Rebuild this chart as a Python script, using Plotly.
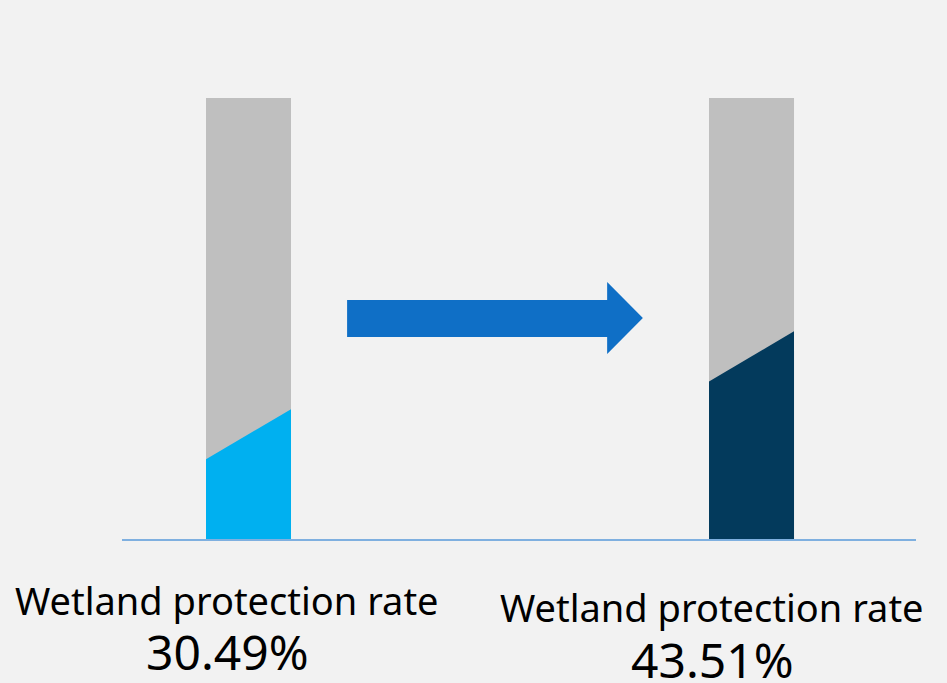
import plotly.graph_objects as go

# ---- data ----
categories = ["Earlier", "Later"]
rate_labels = ["30.49%", "43.51%"]
rates = [30.49, 43.51]
full_scale = [100, 100]
fill_right = [29.4, 47.1]   # drawn height of the coloured fill at right edge
fill_left = [18.1, 35.7]    # drawn height of the coloured fill at left edge
caption = ["Wetland protection rate", "Wetland protection rate"]

fill_colors = ["#00B0F0", "#033A5C"]
BG = "#F2F2F2"
BAR_W = 0.169

xs = list(range(len(categories)))

fig = go.Figure()

fig.add_trace(go.Bar(
    x=xs, y=full_scale, width=BAR_W, marker=dict(color="#BFBFBF", line=dict(width=0)),
    hoverinfo="skip", showlegend=False,
))

for i, (r, l) in enumerate(zip(fill_right, fill_left)):
    x0, x1 = xs[i] - BAR_W / 2, xs[i] + BAR_W / 2
    fig.add_trace(go.Scatter(
        x=[x0, x1, x1, x0, x0], y=[0, 0, r, l, 0],
        fill="toself", fillcolor=fill_colors[i], mode="lines",
        line=dict(width=0, color=fill_colors[i]),
        hoverinfo="skip", showlegend=False, name=categories[i],
    ))

# arrow between the bars
fig.add_shape(
    type="path",
    path="M 0.196,45.8 L 0.713,45.8 L 0.713,41.95 L 0.784,50.1 L 0.713,58.3 L 0.713,54.2 L 0.196,54.2 Z",
    xref="x", yref="y", fillcolor="#0F6FC6", line=dict(width=0), layer="above",
)

label_shift_x = [-21.5, -39.5]
cap_shift_y = [-61, -68]
num_shift_y = [-112, -120]
for i in xs:
    fig.add_annotation(
        x=xs[i], y=0, xref="x", yref="paper", text=caption[i], showarrow=False,
        xshift=label_shift_x[i], yshift=cap_shift_y[i], yanchor="middle", xanchor="center",
        font=dict(family="Noto Sans", size=38, color="#000000"),
    )
    fig.add_annotation(
        x=xs[i], y=0, xref="x", yref="paper", text=rate_labels[i], showarrow=False,
        xshift=label_shift_x[i], yshift=num_shift_y[i], yanchor="middle", xanchor="center",
        font=dict(family="Noto Sans", size=48, color="#000000"),
    )

fig.update_layout(
    width=947, height=683, autosize=False,
    margin=dict(l=122, r=31, t=98, b=144),
    paper_bgcolor=BG, plot_bgcolor=BG,
    barmode="overlay",
    xaxis=dict(range=[-0.2515, 1.327], showgrid=False, zeroline=False, showticklabels=False,
               ticks="", showline=True, linecolor="#7FB0E0", linewidth=2, fixedrange=True),
    yaxis=dict(range=[0, 100], showgrid=False, zeroline=False, showticklabels=False,
               ticks="", showline=False, fixedrange=True),
)

fig.write_html(
    "out.html",
    config={"displayModeBar": False},
    post_script="document.body.style.margin='0';document.body.style.overflow='hidden';",
)
